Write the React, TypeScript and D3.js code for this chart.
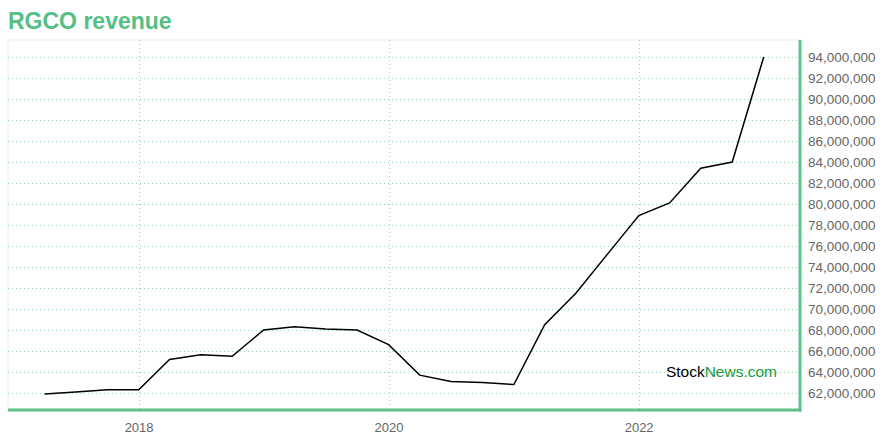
import { useEffect, useRef } from "react";
import * as d3 from "d3";

const dates = [
  "2017-03-31", "2017-06-30", "2017-09-30", "2017-12-31",
  "2018-03-31", "2018-06-30", "2018-09-30", "2018-12-31",
  "2019-03-31", "2019-06-30", "2019-09-30", "2019-12-31",
  "2020-03-31", "2020-06-30", "2020-09-30", "2020-12-31",
  "2021-03-31", "2021-06-30", "2021-09-30", "2021-12-31",
  "2022-03-31", "2022-06-30", "2022-09-30", "2022-12-31",
];

const revenue = [
  61.9, 62.1, 62.3, 62.3,
  65.2, 65.65, 65.5, 68.0,
  68.3, 68.1, 68.0, 66.6,
  63.7, 63.1, 63.0, 62.8,
  68.5, 71.5, 75.2, 78.9,
  80.1, 83.4, 84.0, 94.0,
].map((v) => v * 1e6);

const yTicks = [
  62, 64, 66, 68, 70, 72, 74, 76, 78, 80, 82, 84, 86, 88, 90, 92, 94,
].map((v) => v * 1e6);

const xTicks = ["2018-01-01", "2020-01-01", "2022-01-01"];

const GREEN = "#5cc38a";
const FONT = "'Liberation Sans', Arial, Helvetica, sans-serif";

export default function App() {
  const svgRef = useRef<SVGSVGElement>(null);

  useEffect(() => {
    if (!svgRef.current) return;
    const width = 880;
    const height = 440;
    const margin = { top: 40, right: 80, bottom: 30, left: 8 };
    const innerWidth = width - margin.left - margin.right;
    const innerHeight = height - margin.top - margin.bottom;

    const svg = d3.select(svgRef.current);
    svg.selectAll("*").remove();
    svg.attr("width", width).attr("height", height);

    const parse = d3.timeParse("%Y-%m-%d");
    const data = dates.map((d, i) => ({ date: parse(d) as Date, value: revenue[i] }));

    const x = d3
      .scaleTime()
      .domain([new Date(2016, 11, 14), new Date(2023, 3, 16)])
      .range([0, innerWidth]);

    const y = d3
      .scaleLinear()
      .domain([60380000, 95620000])
      .range([innerHeight, 0]);

    // Title
    svg
      .append("text")
      .attr("x", 8)
      .attr("y", 29)
      .attr("font-family", FONT)
      .attr("font-weight", "bold")
      .attr("font-size", 23)
      .attr("fill", "#55c084")
      .text("RGCO revenue");

    const g = svg
      .append("g")
      .attr("transform", `translate(${margin.left},${margin.top})`);

    // Frame
    g.append("rect")
      .attr("width", innerWidth)
      .attr("height", innerHeight)
      .attr("fill", "none")
      .attr("stroke", "#eeeeee")
      .attr("stroke-width", 1);

    // Gridlines
    g.selectAll(".hgrid")
      .data(yTicks)
      .join("line")
      .attr("x1", 0)
      .attr("x2", innerWidth)
      .attr("y1", (d) => Math.round(y(d)) + 0.5)
      .attr("y2", (d) => Math.round(y(d)) + 0.5)
      .attr("stroke", "#8fd9b2")
      .attr("stroke-dasharray", "1,3");

    g.selectAll(".vgrid")
      .data(xTicks.map((d) => parse(d) as Date))
      .join("line")
      .attr("x1", (d) => Math.round(x(d)) + 0.5)
      .attr("x2", (d) => Math.round(x(d)) + 0.5)
      .attr("y1", 0)
      .attr("y2", innerHeight)
      .attr("stroke", "#8fd9b2")
      .attr("stroke-dasharray", "1,3");

    // Line
    const line = d3
      .line<{ date: Date; value: number }>()
      .x((d) => x(d.date))
      .y((d) => y(d.value));

    g.append("path")
      .datum(data)
      .attr("d", line)
      .attr("fill", "none")
      .attr("stroke", "#000")
      .attr("stroke-width", 1.5);

    // Axes
    const fmt = d3.format(",");
    g.selectAll(".ylab")
      .data(yTicks)
      .join("text")
      .attr("x", innerWidth + 8)
      .attr("y", (d) => y(d))
      .attr("dy", "0.35em")
      .attr("font-family", FONT)
      .attr("font-size", 13.5)
      .attr("fill", "#666")
      .text((d) => fmt(d));

    g.selectAll(".xlab")
      .data(xTicks.map((d) => parse(d) as Date))
      .join("text")
      .attr("x", (d) => x(d))
      .attr("y", innerHeight + 22)
      .attr("text-anchor", "middle")
      .attr("font-family", FONT)
      .attr("font-size", 13)
      .attr("fill", "#666")
      .text((d) => d3.timeFormat("%Y")(d));

    g.append("line")
      .attr("x1", innerWidth)
      .attr("x2", innerWidth)
      .attr("y1", 0)
      .attr("y2", innerHeight + 1.5)
      .attr("stroke", GREEN)
      .attr("stroke-width", 3);

    g.append("line")
      .attr("x1", 0)
      .attr("x2", innerWidth + 1.5)
      .attr("y1", innerHeight)
      .attr("y2", innerHeight)
      .attr("stroke", GREEN)
      .attr("stroke-width", 3);

    // Watermark
    const wm = g
      .append("text")
      .attr("x", innerWidth - 23)
      .attr("y", y(64000000) + 5)
      .attr("text-anchor", "end")
      .attr("font-family", FONT)
      .attr("font-size", 15.5);
    wm.append("tspan").attr("fill", "#000").text("Stock");
    wm.append("tspan").attr("fill", "#1a9a3a").text("News.com");
  }, []);

  return (
    <div style={{ position: "absolute", left: 0, top: 0 }}>
      <svg ref={svgRef} style={{ display: "block" }} />
    </div>
  );
}
